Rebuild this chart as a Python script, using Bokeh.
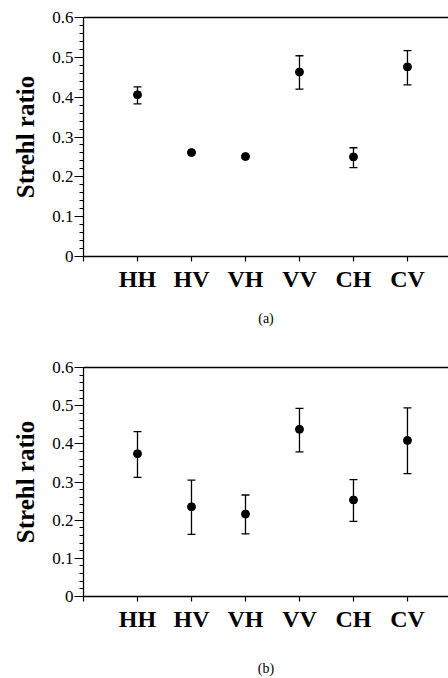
from bokeh.plotting import figure
from bokeh.layouts import column
from bokeh.models import (ColumnDataSource, Whisker, TeeHead, FixedTicker,
                          LinearAxis, Range1d)
from bokeh.embed import file_html
from bokeh.resources import INLINE

categories = ["HH", "HV", "VH", "VV", "CH", "CV"]
positions = [1, 2, 3, 4, 5, 6]

a_values = [0.406, 0.261, 0.251, 0.463, 0.250, 0.476]
a_upper = [0.426, 0.263, 0.253, 0.504, 0.273, 0.517]
a_lower = [0.383, 0.259, 0.249, 0.420, 0.223, 0.431]

b_values = [0.374, 0.235, 0.216, 0.438, 0.253, 0.409]
b_upper = [0.432, 0.305, 0.266, 0.493, 0.306, 0.494]
b_lower = [0.312, 0.163, 0.164, 0.379, 0.197, 0.322]

y_ticks = [0, 0.1, 0.2, 0.3, 0.4, 0.5, 0.6]
y_tick_labels = ["0", "0.1", "0.2", "0.3", "0.4", "0.5", "0.6"]
y_minor = [0.02, 0.04, 0.06, 0.08, 0.12, 0.14, 0.16, 0.18, 0.22, 0.24, 0.26, 0.28,
           0.32, 0.34, 0.36, 0.38, 0.42, 0.44, 0.46, 0.48, 0.52, 0.54, 0.56, 0.58]

SERIF = "'Liberation Serif', 'Times New Roman', serif"


def make_panel(values, upper, lower, caption, height, border_top, border_bottom, cap_standoff):
    p = figure(width=448, height=height, output_backend="svg", toolbar_location=None,
               x_range=Range1d(0, 6.76), y_range=Range1d(0, 0.6),
               min_border_left=83, min_border_right=0,
               min_border_top=border_top, min_border_bottom=border_bottom,
               x_axis_type=None, y_axis_type=None)
    p.outline_line_color = None
    p.grid.visible = False
    p.background_fill_color = "white"
    p.border_fill_color = "white"

    src = ColumnDataSource(dict(x=positions, y=values, upper=upper, lower=lower))

    # y axis
    yax = LinearAxis(ticker=FixedTicker(ticks=y_ticks, minor_ticks=y_minor))
    yax.major_label_overrides = {t: l for t, l in zip(y_ticks, y_tick_labels)}
    yax.major_tick_out = 9
    yax.major_tick_in = 0
    yax.minor_tick_out = 4
    yax.minor_tick_in = 0
    yax.axis_line_width = 1.3
    yax.axis_line_color = "black"
    yax.major_tick_line_color = "black"
    yax.minor_tick_line_color = "black"
    yax.major_tick_line_width = 1.2
    yax.minor_tick_line_width = 1
    yax.major_label_text_font = SERIF
    yax.major_label_text_font_size = "17px"
    yax.major_label_text_color = "black"
    yax.major_label_standoff = 1
    yax.axis_label = "Strehl ratio"
    yax.axis_label_text_font = SERIF
    yax.axis_label_text_font_style = "bold"
    yax.axis_label_text_font_size = "25px"
    yax.axis_label_text_color = "black"
    yax.axis_label_standoff = 10
    p.add_layout(yax, "left")

    # x axis
    xticks = [0] + positions
    xax = LinearAxis(ticker=FixedTicker(ticks=xticks, minor_ticks=[]))
    overrides = {0: ""}
    for pos, cat in zip(positions, categories):
        overrides[pos] = cat
    xax.major_label_overrides = overrides
    xax.major_tick_out = 5
    xax.major_tick_in = 0
    xax.axis_line_width = 1.3
    xax.axis_line_color = "black"
    xax.major_tick_line_color = "black"
    xax.major_tick_line_width = 1.2
    xax.major_label_text_font = SERIF
    xax.major_label_text_font_style = "bold"
    xax.major_label_text_font_size = "24px"
    xax.major_label_text_color = "black"
    xax.major_label_standoff = 4
    xax.axis_label = caption
    xax.axis_label_text_font = SERIF
    xax.axis_label_text_font_style = "normal"
    xax.axis_label_text_font_size = "14px"
    xax.axis_label_text_color = "black"
    xax.axis_label_standoff = cap_standoff
    p.add_layout(xax, "below")

    # top border line
    tax = LinearAxis(ticker=FixedTicker(ticks=[]), major_label_text_font_size="0px")
    tax.axis_line_width = 1.3
    tax.axis_line_color = "black"
    tax.major_tick_out = 0
    tax.minor_tick_out = 0
    p.add_layout(tax, "above")

    w = Whisker(source=src, base="x", upper="upper", lower="lower",
                line_color="black", line_width=1.3,
                upper_head=TeeHead(size=8, line_width=1.3, line_color="black"),
                lower_head=TeeHead(size=8, line_width=1.3, line_color="black"))
    p.add_layout(w)
    p.scatter("x", "y", source=src, size=8, marker="circle",
              fill_color="black", line_color="black")
    return p


pa = make_panel(a_values, a_upper, a_lower, "(a)", 338, 17, 82, 16)
pb = make_panel(b_values, b_upper, b_lower, "(b)", 340, 29, 72, 26)

layout = column(pa, pb, spacing=0)
open("out.html", "w").write(file_html(layout, INLINE))
